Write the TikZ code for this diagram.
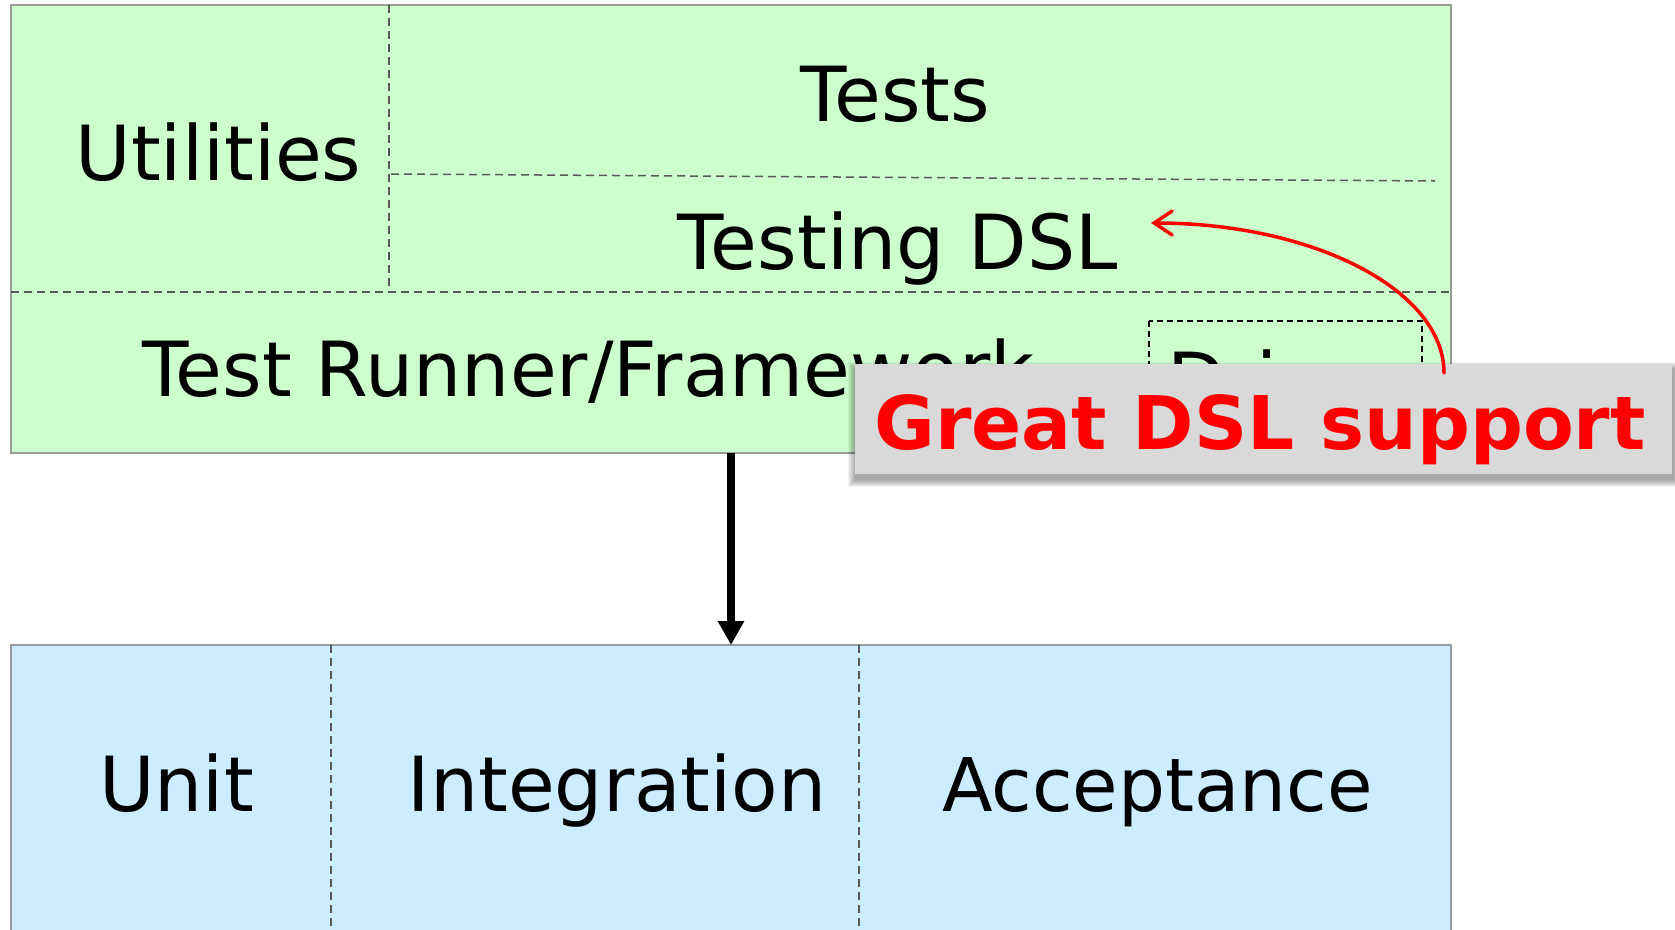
\documentclass[tikz,border=0pt]{standalone}
\usepackage{fontspec}
\setmainfont{DejaVu Sans}
\usetikzlibrary{arrows.meta}
\definecolor{greenfill}{HTML}{CCFFCC}
\definecolor{bluefill}{HTML}{CCECFF}
\definecolor{callgray}{HTML}{D9D9D9}
\definecolor{edgegray}{HTML}{9A9A9A}
\definecolor{dashgray}{HTML}{595959}
\begin{document}
\begin{tikzpicture}[x=1pt,y=-1pt,
  lbl/.style={anchor=base,inner sep=0pt,font=\fontsize{76}{90}\selectfont},
  divline/.style={draw=dashgray,line width=1.5pt,dash pattern=on 8pt off 5pt},
  panel/.style={draw=edgegray,line width=1.5pt,rectangle,inner sep=0pt,outer sep=0pt}]
\useasboundingbox (0,0) rectangle (1675,929);
% top panel
\node[panel,fill=greenfill,minimum width=1440pt,minimum height=448pt] (top) at (731,229) {};
\draw[divline] (389,5) -- (389,292);
\draw[divline] (391,174) -- (1435,181);
\draw[divline] (11,292) -- (1451,292);
\node[lbl] (util) at (218.5,180) {Utilities};
\node[lbl] (tests) at (895.5,121) {Tests};
\node[lbl] (dsl) at (897.5,269) {Testing DSL};
\node[lbl,anchor=base west] (runner) at (142,396) {Test Runner/Framework};
\draw[black,line width=1.5pt,dash pattern=on 6pt off 4pt] (1149,321) rectangle (1422,440);
\node[lbl,anchor=base west] (driver) at (1167,407) {Driver};
% bottom panel
\node[panel,fill=bluefill,minimum width=1440pt,minimum height=300pt] (blue) at (731,795) {};
\draw[divline] (331,645) -- (331,929);
\draw[divline] (859,645) -- (859,929);
\node[lbl] (unit) at (176.5,811) {Unit};
\node[lbl] (integ) at (617,811) {Integration};
\node[lbl,font=\fontsize{74}{90}\selectfont] (accept) at (1157.5,811) {Acceptance};
% main arrow
\draw[line width=7.5pt,-{Triangle[length=24pt,width=25pt]}] (top.south) -- (blue.north);
% callout shadow
\foreach \i in {0,...,7}{
  \fill[black,opacity=0.05] (855-\i,369-\i) rectangle (1674+\i,480+\i);
}
\node[fill=callgray,inner sep=0pt,outer sep=0pt,minimum width=817pt,minimum height=110pt] (call) at (1263.5,419) {};
\node[anchor=base,inner sep=0pt,text=red,font=\fontsize{74}{90}\selectfont\bfseries] (calltext) at (1260,449) {Great DSL support};
% red arrow
\coordinate (cs) at (1444,373);
\coordinate (tip) at (1151,223);
\draw[red,line width=3.5pt,line cap=round,-{Straight Barb[length=18pt,width=24pt,line cap=round]}] (cs) .. controls (1444,290) and (1313,223) .. (tip);
\end{tikzpicture}
\end{document}
